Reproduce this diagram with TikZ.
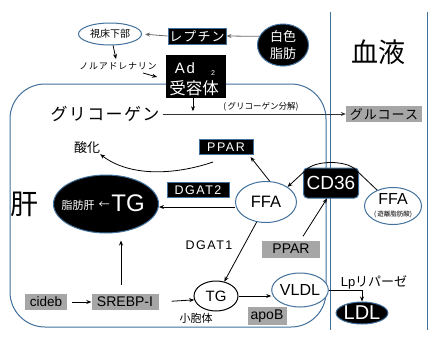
\documentclass[tikz,border=0pt]{standalone}
\usepackage{fontspec}
\setmainfont{Liberation Sans}
\newfontfamily\jp{Noto Sans CJK JP}
\newfontfamily\jpsp[LetterSpace=8]{Noto Sans CJK JP}
\newfontfamily\lsp[LetterSpace=12]{Liberation Sans}
\usetikzlibrary{arrows.meta,shapes.geometric,calc}
\definecolor{bl}{HTML}{41719C}
\definecolor{gb}{HTML}{A6A6A6}
\newcommand\fsz[1]{\fontsize{#1}{#1}\selectfont}
\begin{document}
\begin{tikzpicture}[x=1pt,y=-1pt,
 arr/.style={-{Stealth[length=5pt,width=4pt]},line width=0.8pt},
 garr/.style={arr,draw=gray!85!black},
 bE/.style={ellipse,draw=bl,line width=1pt,fill=white,inner sep=0pt},
 kE/.style={ellipse,draw=bl,line width=1pt,fill=black,text=white,inner sep=0pt},
 kbox/.style={rectangle,draw=bl,line width=1pt,fill=black,text=white,inner sep=0pt},
 gbox/.style={rectangle,fill=gb,inner sep=0pt},
 txt/.style={inner sep=0pt}]
\useasboundingbox (0,0) rectangle (436,346);
\fill[white] (0,0) rectangle (436,346);
% regions
\draw[bl,line width=1pt,rounded corners=35] (10,84) rectangle (326,327);
\draw[bl,line width=1pt] (330,12) -- (330,330) (427,12) -- (427,330);
\node[txt] (blood) at (378,52) {\jp\fsz{27}血液};
\node[txt] (liver) at (24,204) {\jp\fsz{28}肝};
% top
\node[kE,minimum width=51pt,minimum height=42pt,align=center,font=\jp\fontsize{13}{17}\selectfont] (wf) at (283,45) {白色\\脂肪};
\node[kbox,minimum width=58pt,minimum height=16pt] (lep) at (197,36) {\jpsp\fsz{13}レプチン};
\node[bE,minimum width=63pt,minimum height=22pt] (hyp) at (110,34) {\jp\fsz{10}視床下部};
\node[txt] (nor) at (118,66) {\jpsp\fsz{9}ノルアドレナリン};
\node[rectangle,fill=black,minimum width=60pt,minimum height=43pt,inner sep=0pt] (ad) at (196,76.5) {};
\node[txt,text=white] (adt) at (185,68) {\lsp\fsz{15}Ad};
\node[txt,text=white] (ad2) at (213,73) {\fsz{7}2};
\node[txt,text=white] (adr) at (194,88) {\jp\fsz{16.5}受容体};
\node[txt] (gly) at (105,114) {\jpsp\fsz{17}グリコーゲン};
\node[gbox,minimum width=76pt,minimum height=16pt] (glu) at (384,114) {\jpsp\fsz{13}グルコース};
\node[txt] (glyd) at (261,107) {\jp\fsz{8.5}(\,グリコーゲン分解)};
% middle
\node[kbox,minimum width=54pt,minimum height=15pt] (ppar1) at (226,147) {\lsp\fsz{12.5}PPAR};
\node[txt] (sanka) at (87,148) {\jp\fsz{13}酸化};
\node[kE,minimum width=105pt,minimum height=58pt] (tg) at (106,204) {};
\node[txt,text=white] (fl) at (78,205) {\jp\fsz{11}脂肪肝};
\node[txt,text=white] (la) at (104,205) {\jp\fsz{11}←};
\node[txt,text=white] (tgt) at (128,203) {\fsz{24}TG};
\node[kbox,minimum width=62pt,minimum height=15pt] (dgat2) at (198,190) {\lsp\fsz{12.5}DGAT2};
\node[bE,minimum width=61pt,minimum height=41pt] (ffa) at (266,202) {\fsz{16.5}FFA};
\node[kbox,rounded corners=4pt,minimum width=55pt,minimum height=30pt] (cd36) at (331,183) {\fsz{19}CD36};
\node[bE,minimum width=57pt,minimum height=37pt] (ffab) at (393,206) {};
\node[txt] (ffabt) at (393,199) {\fsz{16}FFA};
\node[txt] (ffabs) at (393,214) {\jp\fsz{6.5}(\,遊離脂肪酸)};
\node[txt] (dgat1) at (209,245) {\lsp\fsz{12.5}DGAT1};
\node[gbox,minimum width=58pt,minimum height=17pt] (ppar2) at (291,249) {\fsz{14}PPAR};
% bottom
\node[gbox,minimum width=42pt,minimum height=16pt] (cideb) at (46,302) {\fsz{13.5}cideb};
\node[gbox,minimum width=67pt,minimum height=16pt] (srebp) at (125,302) {\fsz{14}SREBP-I};
\node[ellipse,draw=black,line width=1pt,fill=white,inner sep=0pt,minimum width=44pt,minimum height=30pt] (tgs) at (216,296) {\fsz{15}TG};
\node[txt] (er) at (196,318) {\jp\fsz{11}小胞体};
\node[bE,minimum width=55pt,minimum height=34pt] (vldl) at (300,290) {\fsz{16}VLDL};
\node[gbox,minimum width=39pt,minimum height=18pt] (apob) at (267,316) {\fsz{14}apoB};
\node[txt] (lpl) at (374,282) {\fsz{13}Lp\jp リパーゼ};
\node[kE,minimum width=51pt,minimum height=22pt] (ldl) at (362,313) {\fsz{20}LDL};
% connectors
\draw[garr] (wf.160) -- (lep.east);
\draw[garr,shorten >=3] (lep.west) -- (hyp.east);
\coordinate (norin) at (116,59);
\draw[arr] (hyp.285) -- (norin);
\coordinate (na1) at (143,73);
\draw[arr,shorten >=9] (na1) -- ($(ad.west)+(0,3)$);
\coordinate (ad1) at ($(ad.south)+(-3,0)$);
\draw[arr] (ad1) -- ($(ad1)+(0,13)$);
\draw[arr,draw=black!80,shorten <=3] (gly.east) -- (glu.west);
\coordinate (c1) at ($(ppar1.south)+(-13,7)$);
\draw[arr] (c1) .. controls (175,175) and (130,177) .. (sanka.south east);
\coordinate (f1) at ($(ffa.west)+(0,5)$);
\draw[arr] (f1) -- (f1 -| tg.east);
\draw[arr] (ffab.135) -- ($(cd36)+(25,-13)$) .. controls ($(cd36)+(16,-23)$) and ($(cd36)+(-16,-23)$) .. ($(cd36)+(-25,-13)$) -- (ffa.35);
\draw[arr] (ffa.80) -- ($(ppar1.south east)+(-3,2)$);
\draw[arr] (ffa.245) -- (tgs.60);
\coordinate (p2) at ($(ppar2.north)+(12,-4)$);
\draw[arr] (p2) -- ($(cd36.south)+(-4,0)$);
\draw[arr,shorten <=5] (cideb.east) -- (srebp.west);
\coordinate (s1) at ($(srebp.north)+(-4,-9)$);
\draw[arr,shorten >=7] (s1) -- (s1 |- tg.south);
\draw[arr,shorten <=13] (srebp.east) -- (tgs.190);
\draw[arr] (tgs.east) -- (tgs.east -| vldl.west);
\draw[arr] (vldl.east) -| (ldl.north);
\end{tikzpicture}
\end{document}
